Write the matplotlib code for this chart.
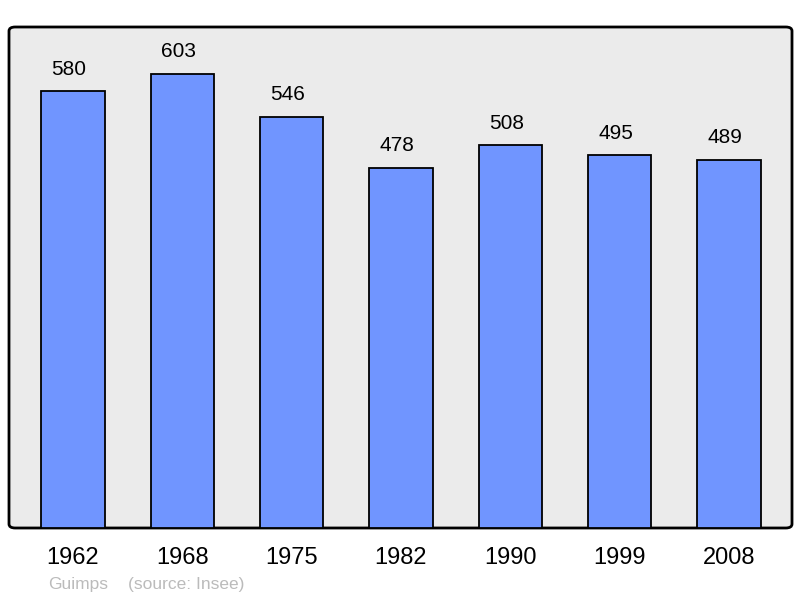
import matplotlib.pyplot as plt
from matplotlib.patches import FancyBboxPatch

plt.rcParams['font.family'] = ['Liberation Sans', 'DejaVu Sans']

years = ['1962', '1968', '1975', '1982', '1990', '1999', '2008']
population = [580, 603, 546, 478, 508, 495, 489]

fig = plt.figure(figsize=(8, 5.98), dpi=100)
ax = fig.add_axes([9 / 800, 1 - 528 / 598, 783 / 800, 501 / 598])
ax.set_facecolor('none')

# rounded grey background frame
frame = FancyBboxPatch((0, 0), 1, 1, boxstyle='round,pad=0,rounding_size=0.008',
                       transform=ax.transAxes, facecolor='#ebebeb',
                       edgecolor='black', linewidth=2, zorder=0, clip_on=False)
ax.add_patch(frame)
for s in ax.spines.values():
    s.set_visible(False)

x = range(len(years))
bars = ax.bar(x, population, width=0.58, color='#7095ff', edgecolor='black',
              linewidth=1.3, zorder=2)

for xi, v in zip(x, population):
    ax.annotate(str(v), (xi, v), xytext=(-3, 9), textcoords='offset points',
                ha='center', va='bottom', fontsize=15)

ax.set_xlim(-0.585, 6.576)
ax.set_ylim(0, 665)
ax.set_xticks(list(x))
ax.set_xticklabels(years, fontsize=17)
ax.tick_params(axis='x', length=0, pad=14)
ax.set_yticks([])

fig.text(48 / 800, 1 - 584 / 598, 'Guimps', color='#bbbbbb', fontsize=12.5, va='center')
fig.text(128 / 800, 1 - 584 / 598, '(source: Insee)', color='#bbbbbb', fontsize=12.5, va='center')

fig.savefig('out.png', dpi=100)
